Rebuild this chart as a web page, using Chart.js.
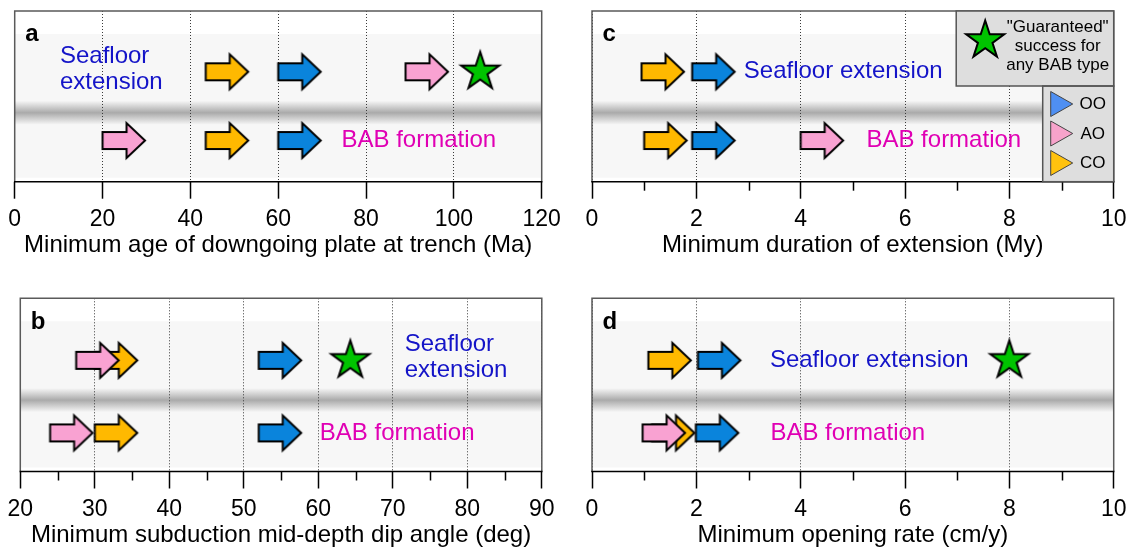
<!DOCTYPE html>
<html><head><meta charset="utf-8">
<script src="https://cdn.jsdelivr.net/npm/chart.js@4.4.0/dist/chart.umd.min.js"></script>
<style>
html,body{margin:0;padding:0;background:#fff;}
#wrap{position:relative;width:1134px;height:551px;overflow:hidden;background:#fff;}
#wrap canvas{position:absolute;left:0;top:0;}
</style></head><body>
<div id="wrap">
<canvas id="pa" width="1134" height="551"></canvas>
<canvas id="pb" width="1134" height="551"></canvas>
<canvas id="pc" width="1134" height="551"></canvas>
<canvas id="pd" width="1134" height="551"></canvas>
</div>
<script>
// ---------------- data ----------------
const arrowTypes = ['OO', 'AO', 'CO'];           // order of values in each row array
const rowNames = ['BAB formation', 'Seafloor extension']; // y = 0, y = 1

// a: minimum age of downgoing plate at trench (Ma)
const ageSeafloor = [60, 89, 43.5];
const ageBAB = [60, 20, 43.5];
const ageStar = [106];
const ageTicks = [0, 20, 40, 60, 80, 100, 120];
const ageMinor = [];

// b: minimum subduction mid-depth dip angle (deg)
const dipSeafloor = [52, 27.5, 30];
const dipBAB = [52, 24, 30];
const dipStar = [64.3];
const dipTicks = [20, 30, 40, 50, 60, 70, 80, 90];
const dipMinor = [25, 35, 45, 55, 65, 75, 85];

// c: minimum duration of extension (My)
const durSeafloor = [1.92, null, 0.95];
const durBAB = [1.92, 4.0, 1.0];
const durStar = [];
const durTicks = [0, 2, 4, 6, 8, 10];
const durMinor = [1, 3, 5, 7, 9];

// d: minimum opening rate (cm/y)
const rateSeafloor = [2.03, null, 1.08];
const rateBAB = [1.99, 0.97, 1.15];
const rateStar = [8];
const rateTicks = [0, 2, 4, 6, 8, 10];
const rateMinor = [1, 3, 5, 7, 9];

const legendTypes = ['OO', 'AO', 'CO'];
const legendStarText = ['"Guaranteed"', 'success for', 'any BAB type'];

// ---------------- styles ----------------
const FONT = '"Liberation Sans", Arial, Helvetica, sans-serif';
const BLUE = '#1414c8', MAGENTA = '#e000b4';
const FILL = {OO: '#0a84dc', AO: '#f9a2d2', CO: '#ffb900'};
const LEGEND_FILL = {OO: '#4f8ff2', AO: '#f7a3cb', CO: '#ffc20e'};
const STAR_FILL = '#00c400';

function arrowImage(fill) {
  const L = 42.5, bodyL = 24, hh = 17.5, bh = 8.5, pad = 5;
  const W = 2 * (L + pad), H = 2 * (hh + pad);
  const c = document.createElement('canvas');
  c.width = W; c.height = H;
  const g = c.getContext('2d');
  const x0 = W / 2, cy = H / 2;
  g.beginPath();
  g.moveTo(x0, cy - bh);
  g.lineTo(x0 + bodyL, cy - bh);
  g.lineTo(x0 + bodyL, cy - hh);
  g.lineTo(x0 + L, cy);
  g.lineTo(x0 + bodyL, cy + hh);
  g.lineTo(x0 + bodyL, cy + bh);
  g.lineTo(x0, cy + bh);
  g.closePath();
  g.fillStyle = fill; g.fill();
  g.lineWidth = 2; g.lineJoin = 'miter'; g.strokeStyle = '#000'; g.stroke();
  return c;
}
function starPath(g, cx, cy, R) {
  const r = R * 0.382;
  g.beginPath();
  for (let k = 0; k < 10; k++) {
    const ang = -Math.PI / 2 + k * Math.PI / 5;
    const rr = k % 2 === 0 ? R : r;
    const px = cx + rr * Math.cos(ang), py = cy + rr * Math.sin(ang);
    if (k === 0) g.moveTo(px, py); else g.lineTo(px, py);
  }
  g.closePath();
}
function starImage() {
  const R = 20, pad = 5, S = 2 * (R + pad);
  const c = document.createElement('canvas');
  c.width = S; c.height = S;
  const g = c.getContext('2d');
  starPath(g, S / 2, S / 2, R);
  g.fillStyle = STAR_FILL; g.fill();
  g.lineWidth = 2; g.lineJoin = 'miter'; g.strokeStyle = '#000'; g.stroke();
  return c;
}
const arrowImg = {OO: arrowImage(FILL.OO), AO: arrowImage(FILL.AO), CO: arrowImage(FILL.CO)};
const starImg = starImage();

const panels = [
  {id: 'pa', letter: 'a', sea: ageSeafloor, bab: ageBAB, star: ageStar, ticks: ageTicks, minor: ageMinor,
   min: 0, max: 120, title: 'Minimum age of downgoing plate at trench (Ma)',
   area: [14.7, 9, 541.7, 181.7], y: [-0.598, 1.883], band: 0.404,
   texts: [{lines: ['Seafloor', 'extension'], x: 10.3, row: 1, color: BLUE},
           {lines: ['BAB formation'], x: 74.4, row: 0, color: MAGENTA}]},
  {id: 'pb', letter: 'b', sea: dipSeafloor, bab: dipBAB, star: dipStar, ticks: dipTicks, minor: dipMinor,
   min: 20, max: 90, title: 'Minimum subduction mid-depth dip angle (deg)',
   area: [14.7, 298.3, 541.8, 471.5], y: [-0.532, 1.855], band: 0.412,
   texts: [{lines: ['Seafloor', 'extension'], x: 71.6, row: 1, color: BLUE},
           {lines: ['BAB formation'], x: 60.2, row: 0, color: MAGENTA}]},
  {id: 'pc', letter: 'c', sea: durSeafloor, bab: durBAB, star: durStar, ticks: durTicks, minor: durMinor,
   min: 0, max: 10, title: 'Minimum duration of extension (My)',
   area: [592, 9, 1118, 181.7], y: [-0.598, 1.883], band: 0.404, legend: true,
   texts: [{lines: ['Seafloor extension'], x: 2.91, row: 1, color: BLUE},
           {lines: ['BAB formation'], x: 5.26, row: 0, color: MAGENTA}]},
  {id: 'pd', letter: 'd', sea: rateSeafloor, bab: rateBAB, star: rateStar, ticks: rateTicks, minor: rateMinor,
   min: 0, max: 10, title: 'Minimum opening rate (cm/y)',
   area: [592, 298.3, 1118, 471.5], y: [-0.532, 1.855], band: 0.412,
   texts: [{lines: ['Seafloor extension'], x: 3.41, row: 1, color: BLUE},
           {lines: ['BAB formation'], x: 3.42, row: 0, color: MAGENTA}]}
];

const AXIS_H = 78;

function decoPlugin(p) {
  return {
    id: 'deco',
    beforeDraw(chart) {
      const {ctx, chartArea: a} = chart;
      ctx.save();
      ctx.fillStyle = '#ffffff';
      ctx.fillRect(a.left, a.top, a.right - a.left, a.bottom - a.top);
      ctx.fillStyle = '#f7f7f7';
      ctx.fillRect(a.left, a.top + 23, a.right - a.left, a.bottom - a.top - 27);
      const by = a.bottom - p.band * (a.bottom - a.top);
      const g = ctx.createLinearGradient(0, by - 12, 0, by + 12);
      g.addColorStop(0, 'rgba(170,170,170,0)');
      g.addColorStop(0.5, 'rgba(170,170,170,1)');
      g.addColorStop(1, 'rgba(170,170,170,0)');
      ctx.fillStyle = g;
      ctx.fillRect(a.left, by - 12, a.right - a.left, 24);
      ctx.restore();
    },
    afterDraw(chart) {
      const {ctx, chartArea: a} = chart;
      const xs = chart.scales.x, ys = chart.scales.y;
      ctx.save();
      // minor ticks
      ctx.strokeStyle = '#000'; ctx.lineWidth = 1.5;
      p.minor.forEach(v => {
        const px = Math.round(xs.getPixelForValue(v)) + 0.5;
        ctx.beginPath(); ctx.moveTo(px, a.bottom); ctx.lineTo(px, a.bottom + 9); ctx.stroke();
      });
      // frame
      ctx.strokeStyle = '#5a5a5a'; ctx.lineWidth = 1.5;
      ctx.beginPath();
      ctx.moveTo(a.left, a.bottom); ctx.lineTo(a.left, a.top); ctx.lineTo(a.right, a.top); ctx.lineTo(a.right, a.bottom);
      ctx.stroke();
      ctx.strokeStyle = '#000'; ctx.lineWidth = 1.5;
      ctx.beginPath(); ctx.moveTo(a.left - 0.75, a.bottom); ctx.lineTo(a.right + 0.75, a.bottom); ctx.stroke();
      // panel letter
      ctx.fillStyle = '#000';
      ctx.font = 'bold 24px ' + FONT;
      ctx.textBaseline = 'alphabetic'; ctx.textAlign = 'left';
      ctx.fillText(p.letter, a.left + 10.5, a.top + 30.3);
      // annotations
      ctx.font = '24px ' + FONT;
      ctx.textBaseline = 'middle';
      p.texts.forEach(t => {
        ctx.fillStyle = t.color;
        const px = xs.getPixelForValue(t.x);
        const cy = ys.getPixelForValue(t.row) - (t.lines.length > 1 ? 2.5 : 0);
        const n = t.lines.length;
        t.lines.forEach((s, k) => ctx.fillText(s, px, cy + (k - (n - 1) / 2) * 26));
      });
      // legend (panel c)
      if (p.legend) {
        const ux = a.right - 157.5, uy = a.top, ub = a.top + 75;
        const lx = a.right - 71;
        ctx.fillStyle = '#dedede';
        ctx.fillRect(ux, uy, a.right - ux, ub - uy);
        ctx.fillRect(lx, ub, a.right - lx, a.bottom - ub);
        ctx.strokeStyle = '#555'; ctx.lineWidth = 1.5;
        ctx.strokeRect(ux, uy, a.right - ux, ub - uy);
        ctx.strokeRect(lx, ub, a.right - lx, a.bottom - ub);
        // star
        starPath(ctx, ux + 29, uy + 29.5, 20);
        ctx.fillStyle = STAR_FILL; ctx.fill();
        ctx.lineWidth = 2; ctx.strokeStyle = '#000'; ctx.stroke();
        ctx.fillStyle = '#000';
        ctx.font = '17px ' + FONT; ctx.textAlign = 'center'; ctx.textBaseline = 'middle';
        legendStarText.forEach((s, k) => ctx.fillText(s, ux + 101.5, uy + 16.5 + k * 19));
        legendTypes.forEach((t, k) => {
          const cx = lx + 19, cy = ub + 18 + k * 29.5;
          ctx.beginPath();
          ctx.moveTo(cx - 11, cy - 12.5); ctx.lineTo(cx + 11, cy); ctx.lineTo(cx - 11, cy + 12.5); ctx.closePath();
          ctx.fillStyle = LEGEND_FILL[t]; ctx.fill();
          ctx.strokeStyle = '#444'; ctx.lineWidth = 1; ctx.stroke();
          ctx.fillStyle = '#000';
          ctx.fillText(t, lx + 50, cy + 0.5);
        });
      }
      ctx.restore();
    }
  };
}

function buildPanel(p) {
  const datasets = [];
  datasets.push({label: 'Guaranteed', data: p.star.map(v => ({x: v, y: 1})), pointStyle: starImg});
  ['AO', 'CO', 'OO'].forEach(t => {
    const i = arrowTypes.indexOf(t);
    const pts = [];
    if (p.sea[i] != null) pts.push({x: p.sea[i], y: 1});
    if (p.bab[i] != null) pts.push({x: p.bab[i], y: 0});
    datasets.push({label: t, data: pts, pointStyle: arrowImg[t]});
  });
  datasets.forEach(d => { d.showLine = false; d.clip = false; d.pointRadius = 10; d.pointHoverRadius = 10; });
  const [l, t, r, b] = p.area;
  new Chart(document.getElementById(p.id), {
    type: 'scatter',
    data: {datasets},
    plugins: [decoPlugin(p)],
    options: {
      responsive: false, animation: false, devicePixelRatio: 1, events: [],
      layout: {padding: {left: l, top: t, right: 1134 - r, bottom: 551 - b - AXIS_H}},
      plugins: {legend: {display: false}, tooltip: {enabled: false}},
      scales: {
        x: {
          type: 'linear', min: p.min, max: p.max,
          afterBuildTicks: s => { s.ticks = p.ticks.map(v => ({value: v})); },
          afterFit: s => { s.height = AXIS_H; },
          ticks: {color: '#000', font: {family: FONT, size: 23}, padding: 7.5, maxRotation: 0, autoSkip: false,
                  callback: v => String(v)},
          grid: {color: '#3a3a3a', lineWidth: 1, drawTicks: true, tickLength: 17, tickColor: '#000', tickWidth: 1.5},
          border: {display: false, dash: [1, 2]},
          title: {display: true, text: p.title, color: '#000', font: {family: FONT, size: 24}, padding: 0}
        },
        y: {type: 'linear', display: false, min: p.y[0], max: p.y[1]}
      }
    }
  });
}
panels.forEach(buildPanel);
</script>
</body></html>
